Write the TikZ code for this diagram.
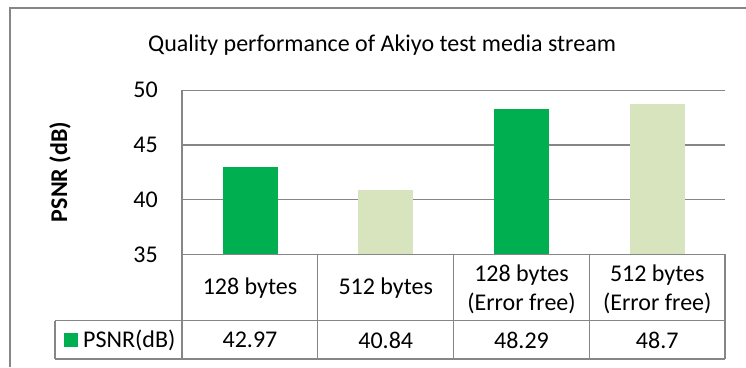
\documentclass[tikz,border=0pt]{standalone}
\usepackage{fontspec}
\setmainfont{Carlito}
\definecolor{bardark}{HTML}{00B050}
\definecolor{barlight}{HTML}{D7E4BD}
\definecolor{linegray}{HTML}{868686}
\begin{document}
\begin{tikzpicture}[x=1pt,y=-1pt]
    \tikzstyle{frame}=[draw=linegray, line width=1.2pt]
    \tikzstyle{gridline}=[draw=linegray, line width=1.4pt]
    \tikzstyle{label}=[font=\fontsize{24}{29}\selectfont, inner sep=0pt]
    \useasboundingbox (0,0) rectangle (746,367);

    % Draw outer frame
    \draw[frame] (10,367) -- (10,8) -- (746,8);

    % Add title
    \node[label] (title) at (382,45) {Quality performance of Akiyo test media stream};

    % Add grid lines and tick labels
    \foreach \v/\y in {40/199.6,45/144.9,50/90.2} {
        \draw[gridline] (182,\y) -- (725,\y);
    }
    \foreach \v/\y in {35/254.3,40/199.6,45/144.9,50/90.2} {
        \node[label, anchor=east] (tick\v) at (158,\y) {\v};
    }

    % Add axis title
    \node[label, font=\fontsize{24}{29}\selectfont\bfseries, rotate=90] (ytitle) at (60,172) {PSNR (dB)};

    % Draw bars
    \foreach \c/\v/\col in {250/42.97/bardark, 385.75/40.84/barlight,
                            521.5/48.29/bardark, 657.25/48.7/barlight} {
        \pgfmathsetmacro\top{254.3-(\v-35)*10.94}
        \fill[\col] (\c-27.5,254.3) rectangle (\c+27.5,\top);
    }

    % Draw data table
    \draw[gridline] (182,90.2) -- (182,359);
    \draw[gridline] (182,254.3) -- (725,254.3);
    \draw[gridline] (55,320.7) -- (725,320.7);
    \draw[gridline] (55,359) -- (725,359);
    \draw[gridline] (55,320.7) -- (55,359);
    \foreach \x in {317.75,453.5,589.25,725} {
        \draw[gridline] (\x,254.3) -- (\x,359);
    }

    % Add category labels
    \node[label] (cat1) at (250,288) {128 bytes};
    \node[label] (cat2) at (385.75,288) {512 bytes};
    \node[label, align=center] (cat3) at (521.5,289) {128 bytes\\(Error free)};
    \node[label, align=center] (cat4) at (657.25,289) {512 bytes\\(Error free)};

    % Add legend key and values
    \fill[bardark] (64,333) rectangle (78,347);
    \node[label, anchor=west] (key) at (83,340) {PSNR(dB)};
    \node[label] (val1) at (250,340) {42.97};
    \node[label] (val2) at (385.75,340) {40.84};
    \node[label] (val3) at (521.5,340) {48.29};
    \node[label] (val4) at (657.25,340) {48.7};
\end{tikzpicture}
\end{document}
